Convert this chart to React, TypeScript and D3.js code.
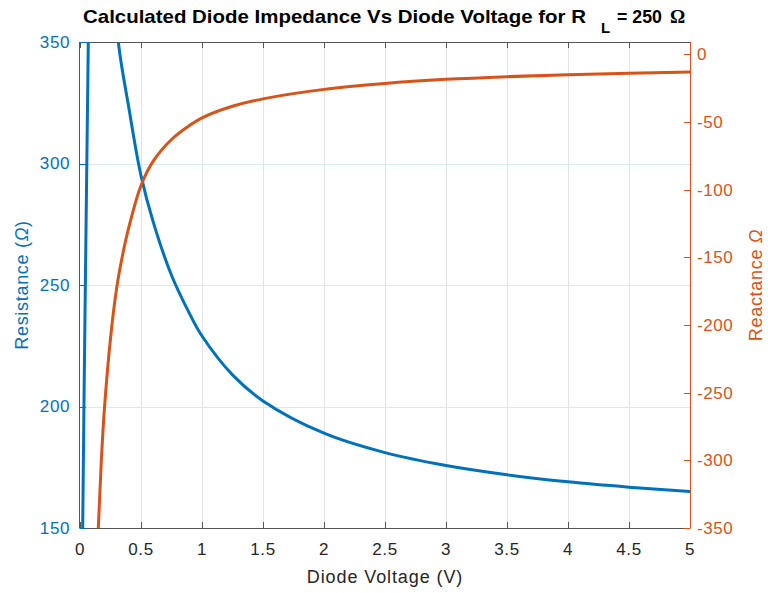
import React, { useEffect, useRef } from 'react';
import * as d3 from 'd3';

// Resistance branch (left axis)
const voltageR = [0.01, 0.022, 0.045, 0.068, 0.09, 0.2, 0.26, 0.314, 0.4, 0.5, 0.6, 0.75, 0.9, 1.0, 1.25, 1.5, 2.0, 2.5, 3.0, 3.5, 4.0, 4.5, 5.0];
const resistance = [60, 150, 255, 350, 440, 560, 390, 350, 323, 295, 276, 254, 238, 229, 213, 202.3, 189, 181, 175.7, 171.9, 169, 166.8, 165];

// Reactance branch (right axis)
const voltageX = [0.12, 0.15, 0.175, 0.2, 0.25, 0.3, 0.35, 0.4, 0.5, 0.6, 0.75, 0.9, 1.0, 1.25, 1.5, 2.0, 2.5, 3.0, 3.5, 4.0, 4.5, 5.0];
const reactance = [-440, -350, -300, -262, -210, -173, -148, -128, -97, -79, -63, -52.5, -47, -38.5, -33, -26, -21.6, -18.6, -16.6, -15.2, -14.1, -13.2];

const xTicks = [0, 0.5, 1, 1.5, 2, 2.5, 3, 3.5, 4, 4.5, 5];
const leftTicks = [150, 200, 250, 300, 350];
const rightTicks = [-350, -300, -250, -200, -150, -100, -50, 0];

const BLUE = '#0072BD';
const ORANGE = '#D95319';
const DARK = '#262626';

export default function App() {
  const svgRef = useRef<SVGSVGElement>(null);

  useEffect(() => {
    const svg = d3.select(svgRef.current);
    svg.selectAll('*').remove();

    const width = 768;
    const height = 593;
    const margin = { top: 42, right: 78, bottom: 65, left: 80 };
    const innerWidth = width - margin.left - margin.right;
    const innerHeight = height - margin.top - margin.bottom;
    const font = '"Liberation Sans", Arial, sans-serif';

    svg.attr('width', width).attr('height', height).attr('viewBox', `0 0 ${width} ${height}`);
    svg.append('rect').attr('width', width).attr('height', height).attr('fill', '#fff');

    const g = svg.append('g').attr('transform', `translate(${margin.left},${margin.top})`);

    // Scales
    const x = d3.scaleLinear().domain([0, 5]).range([0, innerWidth]);
    const yL = d3.scaleLinear().domain([150, 350]).range([innerHeight, 0]);
    const yR = d3.scaleLinear().domain([-350, 9]).range([innerHeight, 0]);

    svg.append('defs').append('clipPath').attr('id', 'plotClip')
      .append('rect').attr('width', innerWidth).attr('height', innerHeight);

    // Grid
    g.selectAll('.vgrid').data(xTicks.slice(1, -1)).join('line')
      .attr('x1', d => Math.round(x(d)) + 0.5).attr('x2', d => Math.round(x(d)) + 0.5)
      .attr('y1', 0).attr('y2', innerHeight)
      .attr('stroke', '#e3e3e3').attr('stroke-width', 1);
    g.selectAll('.hgrid').data(leftTicks.slice(1, -1)).join('line')
      .attr('x1', 0).attr('x2', innerWidth)
      .attr('y1', d => Math.round(yL(d)) + 0.5).attr('y2', d => Math.round(yL(d)) + 0.5)
      .attr('stroke', '#dbe9f5').attr('stroke-width', 1);

    // Box: top and bottom axes
    [0, innerHeight].forEach(yy => {
      g.append('line').attr('x1', 0).attr('x2', innerWidth)
        .attr('y1', yy + 0.5).attr('y2', yy + 0.5)
        .attr('stroke', '#555').attr('stroke-width', 1);
    });
    // x ticks on top (down) and bottom (up)
    g.selectAll('.xtickTop').data(xTicks).join('line')
      .attr('x1', d => Math.round(x(d)) + 0.5).attr('x2', d => Math.round(x(d)) + 0.5)
      .attr('y1', 0).attr('y2', 6).attr('stroke', '#555');
    g.selectAll('.xtickBot').data(xTicks).join('line')
      .attr('x1', d => Math.round(x(d)) + 0.5).attr('x2', d => Math.round(x(d)) + 0.5)
      .attr('y1', innerHeight - 6).attr('y2', innerHeight).attr('stroke', '#555');

    // Left axis
    g.append('line').attr('x1', -0.5).attr('x2', -0.5).attr('y1', 0).attr('y2', innerHeight + 0.5)
      .attr('stroke', BLUE).attr('stroke-width', 1);
    g.selectAll('.ltick').data(leftTicks).join('line')
      .attr('x1', 0).attr('x2', 6)
      .attr('y1', d => Math.round(yL(d)) + 0.5).attr('y2', d => Math.round(yL(d)) + 0.5)
      .attr('stroke', BLUE);

    // Right axis
    g.append('line').attr('x1', innerWidth + 0.5).attr('x2', innerWidth + 0.5).attr('y1', 0).attr('y2', innerHeight + 0.5)
      .attr('stroke', ORANGE).attr('stroke-width', 1);
    g.selectAll('.rtick').data(rightTicks).join('line')
      .attr('x1', innerWidth - 6).attr('x2', innerWidth)
      .attr('y1', d => Math.round(yR(d)) + 0.5).attr('y2', d => Math.round(yR(d)) + 0.5)
      .attr('stroke', ORANGE);

    // Curves
    const plot = g.append('g').attr('clip-path', 'url(#plotClip)');
    const lineR = d3.line<number>()
      .x((_, i) => x(voltageR[i]))
      .y(d => yL(d))
      .curve(d3.curveCatmullRom.alpha(0.5));
    const lineX = d3.line<number>()
      .x((_, i) => x(voltageX[i]))
      .y(d => yR(d))
      .curve(d3.curveCatmullRom.alpha(0.5));

    plot.append('path').datum(resistance).attr('d', lineR)
      .attr('fill', 'none').attr('stroke', BLUE).attr('stroke-width', 3);
    plot.append('path').datum(reactance).attr('d', lineX)
      .attr('fill', 'none').attr('stroke', ORANGE).attr('stroke-width', 3);

    // Tick labels
    g.selectAll('.xlab').data(xTicks).join('text')
      .attr('x', d => x(d)).attr('y', innerHeight + 27)
      .attr('text-anchor', 'middle').attr('font-family', font).attr('font-size', 17)
      .attr('letter-spacing', 0.6).attr('fill', DARK)
      .text(d => String(d));
    g.selectAll('.llab').data(leftTicks).join('text')
      .attr('x', -10).attr('y', d => yL(d)).attr('dy', '0.35em')
      .attr('text-anchor', 'end').attr('font-family', font).attr('font-size', 17)
      .attr('letter-spacing', 0.6).attr('fill', BLUE)
      .text(d => String(d));
    g.selectAll('.rlab').data(rightTicks).join('text')
      .attr('x', innerWidth + 7).attr('y', d => yR(d)).attr('dy', '0.35em')
      .attr('text-anchor', 'start').attr('font-family', font).attr('font-size', 17)
      .attr('letter-spacing', 0.6).attr('fill', ORANGE)
      .text(d => String(d));

    // Axis labels
    svg.append('text')
      .attr('x', margin.left + innerWidth / 2).attr('y', 583)
      .attr('text-anchor', 'middle').attr('font-family', font).attr('font-size', 18)
      .attr('letter-spacing', 0.9).attr('fill', DARK)
      .text('Diode Voltage (V)');

    const lLabel = svg.append('text')
      .attr('transform', 'translate(28,285) rotate(-90)')
      .attr('text-anchor', 'middle').attr('font-family', font).attr('font-size', 18)
      .attr('letter-spacing', 0.7).attr('fill', BLUE);
    lLabel.append('tspan').text('Resistance (');
    lLabel.append('tspan').attr('font-style', 'italic').text('Ω');
    lLabel.append('tspan').text(')');

    const rLabel = svg.append('text')
      .attr('transform', 'translate(762,285) rotate(-90)')
      .attr('text-anchor', 'middle').attr('font-family', font).attr('font-size', 18)
      .attr('letter-spacing', 0.7).attr('fill', ORANGE);
    rLabel.append('tspan').text('Reactance ');
    rLabel.append('tspan').attr('font-style', 'italic').text('Ω');

    // Title
    svg.append('text')
      .attr('x', 83).attr('y', 23)
      .attr('font-family', font).attr('font-size', 19).attr('font-weight', 'bold')
      .attr('textLength', 503).attr('lengthAdjust', 'spacingAndGlyphs').attr('fill', '#000')
      .text('Calculated Diode Impedance Vs Diode Voltage for R');
    svg.append('text')
      .attr('x', 601).attr('y', 33)
      .attr('font-family', font).attr('font-size', 15).attr('font-weight', 'bold').attr('fill', '#000')
      .text('L');
    svg.append('text')
      .attr('x', 617).attr('y', 23)
      .attr('font-family', font).attr('font-size', 19).attr('font-weight', 'bold')
      .attr('textLength', 45).attr('lengthAdjust', 'spacingAndGlyphs').attr('fill', '#000')
      .text('= 250');
    svg.append('text')
      .attr('x', 670).attr('y', 23)
      .attr('font-family', '"Liberation Serif", "DejaVu Serif", serif').attr('font-size', 19)
      .attr('font-weight', 'bold').attr('fill', '#000')
      .text('Ω');
  }, []);

  return (
    <svg ref={svgRef} style={{ position: 'absolute', left: 0, top: 0, display: 'block' }} />
  );
}
